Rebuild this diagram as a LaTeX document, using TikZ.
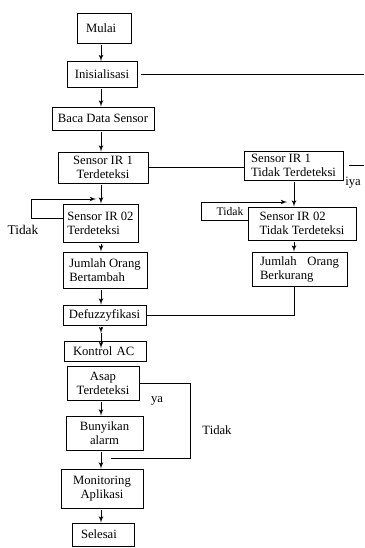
\documentclass[tikz,border=0pt]{standalone}
\usepackage{fontspec}
\setmainfont{Liberation Serif}
\usetikzlibrary{arrows,shapes,positioning,calc}
\tikzset{
    kotak/.style={
        rectangle,
        draw=black,
        line width=0.7pt,
        inner sep=0pt,
        align=center,
        font=\fontsize{9.5}{10.5}\selectfont,
    },
    kiri/.style={
        align=left,
        inner xsep=6.75pt,
        text width=#1,
    },
    label/.style={
        font=\fontsize{9.5}{10.5}\selectfont,
        inner sep=0pt,
    },
    panah/.style={
        ->,
        shorten <=1pt,
    },
}

\begin{document}
\begin{tikzpicture}[x=0.75pt,y=-0.75pt,>=latex',line width=0.6pt]
    \useasboundingbox (0,0) rectangle (364,548);
    % kolom kiri
    \node [kotak,kiri=27pt,minimum height=22.5pt] (mulai) at (104,28) {Mulai};
    \node [kotak,minimum width=52.5pt,minimum height=19.5pt] (init) at (102,74.5) {Inisialisasi};
    \node [kotak,minimum width=76.5pt,minimum height=17.25pt] (baca) at (103,118.5) {Baca Data Sensor};
    \node [kotak,minimum width=67.5pt,minimum height=23.25pt] (ir1) at (103,167.5) {Sensor IR 1\\Terdeteksi};
    \node [kotak,align=left,minimum width=56.25pt,minimum height=28.5pt] (ir2) at (100.5,223) {Sensor IR 02\\Terdeteksi};
    \node [kotak,align=left,minimum width=63pt,minimum height=27pt] (tambah) at (105,270) {Jumlah Orang\\Bertambah};
    \node [kotak,minimum width=62.25pt,minimum height=15pt] (defuzz) at (104.5,315) {Defuzzyfikasi};
    \node [kotak,kiri=48pt,minimum height=15pt] (kontrol) at (105,351) {Kontrol AC};
    \node [kotak,minimum width=54pt,minimum height=25.5pt] (asap) at (103,383) {Asap\\Terdeteksi};
    \node [kotak,minimum width=57.75pt,minimum height=25.5pt] (bunyi) at (104.5,433) {Bunyikan\\alarm};
    \node [kotak,minimum width=61.5pt,minimum height=29.25pt] (monitor) at (102,488.5) {Monitoring\\Aplikasi};
    \node [kotak,kiri=33pt,minimum height=17.25pt] (selesai) at (103,534.5) {Selesai};
    % kolom kanan
    \node [kotak,align=left,minimum width=74.25pt,minimum height=21.75pt] (ir1t) at (293.5,165.5) {Sensor IR 1\\Tidak Terdeteksi};
    \node [kotak,align=left,minimum width=81pt,minimum height=24.75pt] (ir2t) at (302,223.5) {Sensor IR 02\\Tidak Terdeteksi};
    \node [kotak,kiri=59.25pt,inner xsep=6pt,minimum height=25.5pt] (kurang) at (299.5,269) {Jumlah \hfill Orang\\Berkurang};
    % teks
    \node [label,font=\fontsize{10}{11}\selectfont] (tidak1) at (23,230) {Tidak};
    \node [label,font=\fontsize{8.7}{10}\selectfont] (tidak2) at (230,212) {Tidak};
    \node [label] (iya) at (353,183) {iya};
    \node [label] (ya) at (157,401) {ya};
    \node [label] (tidak3) at (217,430) {Tidak};
    % titik bantu
    \coordinate (sumbu) at (101,0);
    \coordinate (sumbu2) at (294,0);
    \coordinate (ujung1) at (364,72);
    \coordinate (ujung2) at (364,167);
    \coordinate (kiri1) at (31,199);
    \coordinate (tip1) at (96,199);
    \coordinate (kanan2) at (201,202);
    \coordinate (tip2) at (287,202);
    \coordinate (tengah) at (101,333);
    \coordinate (dalam) at (101,348);
    \coordinate (balik) at (190,458);
    \coordinate (ujung3) at (111,458);
    % garis
    \draw [panah] (mulai.south -| sumbu) -- (init.north -| sumbu);
    \draw [panah] (init.south -| sumbu) -- (baca.north -| sumbu);
    \draw [panah] (baca.south -| sumbu) -- (ir1.north -| sumbu);
    \draw [panah] (ir1.south -| sumbu) -- (ir2.north -| sumbu);
    \draw [panah] (ir2.south -| sumbu) -- (tambah.north -| sumbu);
    \draw [panah] (tambah.south -| sumbu) -- (defuzz.north -| sumbu);
    \draw [panah] (defuzz.south -| sumbu) -- (tengah);
    \draw [->] (tengah) -- (dalam);
    \draw [panah] (asap.south -| sumbu) -- (bunyi.north -| sumbu);
    \draw [panah] (bunyi.south -| sumbu) -- (monitor.north -| sumbu);
    \draw [panah] (monitor.south -| sumbu) -- (selesai.north -| sumbu);
    \draw [shorten <=3pt] (init.east) -- (init.east -| ujung1);
    \draw (ir1.east) -- (ir1.east -| ir1t.west);
    \draw [shorten <=4.5pt] (ir1t.east) -- (ir1t.east -| ujung2);
    \draw [->] ($(ir2.west)+(0,-5)$) -| (kiri1) -- (tip1);
    \draw [->] ($(ir2t.west)+(0,-3.5)$) -| (kanan2) -- (tip2);
    \draw [panah] (ir1t.south -| sumbu2) -- (ir2t.north -| sumbu2);
    \draw [panah] (ir2t.south -| sumbu2) -- (kurang.north -| sumbu2);
    \draw (kurang.south -| sumbu2) |- (defuzz.east);
    \draw (asap.east) -| (balik) -- (ujung3);
\end{tikzpicture}
\end{document}
